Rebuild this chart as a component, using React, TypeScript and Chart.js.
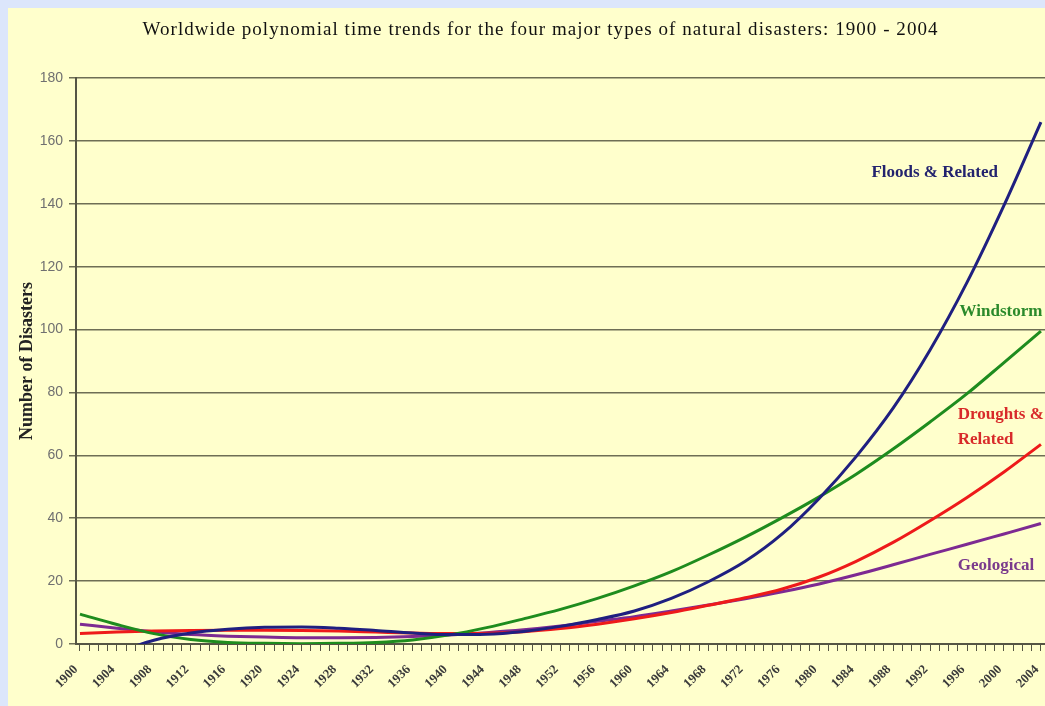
import React, { useEffect, useRef } from 'react';
import { Chart, registerables } from 'chart.js';

Chart.register(...registerables);

const TITLE = 'Worldwide polynomial time trends for the four major types of natural disasters: 1900 - 2004';
const Y_TITLE = 'Number of Disasters';

const YEARS = [1900, 1904, 1908, 1912, 1916, 1920, 1924, 1928, 1932, 1936, 1940, 1944, 1948, 1952, 1956, 1960, 1964, 1968, 1972, 1976, 1980, 1984, 1988, 1992, 1996, 2000, 2004];
const FLOODS = [-7, -2.8, 1.2, 3.5, 4.7, 5.3, 5.4, 5.0, 4.3, 3.5, 3.0, 3.1, 4.0, 5.6, 7.8, 10.5, 14.5, 19.8, 26.3, 35.0, 46.3, 59.6, 75.0, 93.5, 115.0, 139.5, 166.0];
const WINDSTORM = [9.5, 6.2, 3.3, 1.4, 0.5, 0.2, 0.1, 0.2, 0.5, 1.3, 2.9, 5.2, 8.0, 11.0, 14.5, 18.5, 23.0, 28.3, 34.0, 40.2, 46.8, 54.0, 62.0, 70.6, 79.6, 89.5, 99.5];
const DROUGHTS = [3.3, 3.8, 4.1, 4.3, 4.4, 4.4, 4.3, 4.1, 3.8, 3.5, 3.3, 3.4, 3.9, 4.9, 6.3, 8.0, 10.0, 12.3, 14.7, 17.5, 21.3, 26.3, 32.3, 39.2, 46.6, 54.7, 63.5];
const GEOLOGICAL = [6.3, 5.0, 3.9, 3.0, 2.5, 2.2, 2.0, 2.0, 2.1, 2.4, 2.9, 3.6, 4.5, 5.7, 7.2, 8.7, 10.5, 12.4, 14.4, 16.6, 19.1, 22.0, 25.2, 28.5, 31.7, 35.0, 38.3];

const X_LABELS = ['1900', '1904', '1908', '1912', '1916', '1920', '1924', '1928', '1932', '1936', '1940', '1944', '1948', '1952', '1956', '1960', '1964', '1968', '1972', '1976', '1980', '1984', '1988', '1992', '1996', '2000', '2004'];
const Y_TICKS = [0, 20, 40, 60, 80, 100, 120, 140, 160, 180];
const FIRST_YEAR = 1900;
const LAST_YEAR = 2004;

const SERIES_LABELS = [
  { text: 'Floods & Related', x: 1992.5, y: 149.8, color: '#23236e', align: 'center' },
  { text: 'Windstorm', x: 1995.2, y: 105.6, color: '#2b8a2b', align: 'left' },
  { text: 'Droughts &', x: 1995.0, y: 72.8, color: '#d82a2a', align: 'left' },
  { text: 'Related', x: 1995.0, y: 64.9, color: '#d82a2a', align: 'left' },
  { text: 'Geological', x: 1995.0, y: 24.8, color: '#7a3a8c', align: 'left' },
];

const pts = (vals: number[]) => vals.map((v, i) => ({ x: YEARS[i], y: v }));

const bgPlugin = {
  id: 'bgFill',
  beforeDraw(chart: any) {
    const { ctx, width, height } = chart;
    ctx.save();
    ctx.fillStyle = '#FFFFCC';
    ctx.fillRect(0, 0, width, height);
    ctx.restore();
  },
};

const titlePlugin = {
  id: 'spacedTitle',
  afterDraw(chart: any) {
    const { ctx } = chart;
    ctx.save();
    ctx.font = '19px "Liberation Serif", serif';
    ctx.fillStyle = '#111';
    ctx.textBaseline = 'middle';
    ctx.textAlign = 'left';
    (ctx as any).letterSpacing = '0px';
    const w = ctx.measureText(TITLE).width;
    const targetW = 795;
    const ls = Math.max(0, (targetW - w) / (TITLE.length - 1));
    (ctx as any).letterSpacing = ls + 'px';
    ctx.fillText(TITLE, 532 - targetW / 2, 22);
    ctx.restore();
  },
};

const labelPlugin = {
  id: 'seriesLabels',
  afterDatasetsDraw(chart: any) {
    const { ctx, scales } = chart;
    ctx.save();
    ctx.font = 'bold 17px "Liberation Serif", serif';
    ctx.textBaseline = 'middle';
    for (const l of SERIES_LABELS) {
      ctx.fillStyle = l.color;
      ctx.textAlign = l.align as CanvasTextAlign;
      ctx.fillText(l.text, scales.x.getPixelForValue(l.x), scales.y.getPixelForValue(l.y));
    }
    ctx.restore();
  },
};

export default function App() {
  const ref = useRef<HTMLCanvasElement>(null);

  useEffect(() => {
    document.body.style.background = '#dce6fb';
    document.documentElement.style.background = '#dce6fb';
    document.documentElement.style.overflow = 'hidden';
    if (!ref.current) return;

    const allYears: { value: number }[] = [];
    for (let y = FIRST_YEAR; y <= LAST_YEAR; y++) allYears.push({ value: y });

    const mk = (label: string, data: number[], color: string) => ({
      label,
      data: pts(data),
      borderColor: color,
      backgroundColor: color,
      borderWidth: 3,
      pointRadius: 0,
      cubicInterpolationMode: 'monotone' as const,
      fill: false,
      clip: { left: 0, right: 0, top: 4, bottom: 0 },
    });

    const chart = new Chart(ref.current, {
      type: 'line',
      data: {
        datasets: [
          mk('Floods & Related', FLOODS, '#1f1f80'),
          mk('Windstorm', WINDSTORM, '#1e8c1e'),
          mk('Droughts & Related', DROUGHTS, '#ee1a1a'),
          mk('Geological', GEOLOGICAL, '#7d2a92'),
        ],
      },
      options: {
        animation: false,
        responsive: false,
        layout: { padding: { top: 70, left: 0, right: 0, bottom: 0 } },
        plugins: {
          legend: { display: false },
          tooltip: { enabled: false },
          title: { display: false },
        },
        scales: {
          x: {
            type: 'linear',
            min: 1899.57,
            max: 2004.44,
            afterBuildTicks: (s: any) => {
              s.ticks = allYears.map((t) => ({ value: t.value }));
            },
            afterFit: (s: any) => {
              s.height = 62;
              s.paddingLeft = 0;
              s.paddingRight = 0;
            },
            ticks: {
              autoSkip: false,
              minRotation: 45,
              maxRotation: 45,
              padding: 11,
              labelOffset: -4,
              color: '#3a3a3a',
              font: { family: '"Liberation Serif", serif', size: 13, weight: 'bold' },
              callback: (v: any) => (X_LABELS.includes(String(v)) ? String(v) : ''),
            },
            grid: { drawOnChartArea: false, drawTicks: true, tickLength: 7, color: '#555544', lineWidth: 1 },
            border: { display: true, color: '#555544', width: 2 },
          },
          y: {
            min: 0,
            max: 180,
            afterBuildTicks: (s: any) => {
              s.ticks = Y_TICKS.map((v) => ({ value: v }));
            },
            afterFit: (s: any) => {
              s.width = 68;
              s.paddingTop = 0;
              s.paddingBottom = 0;
            },
            ticks: {
              padding: 6,
              color: '#707070',
              font: { family: '"Liberation Sans", sans-serif', size: 14 },
            },
            grid: { color: '#6e6e55', lineWidth: 1.5, tickLength: 7 },
            border: { display: true, color: '#555544', width: 2 },
            title: {
              display: true,
              text: Y_TITLE,
              color: '#222',
              font: { family: '"Liberation Serif", serif', size: 18, weight: 'bold' },
              padding: { top: 9 },
            },
          },
        },
      },
      plugins: [bgPlugin, titlePlugin, labelPlugin],
    } as any);

    return () => chart.destroy();
  }, []);

  return (
    <div style={{ position: 'fixed', left: 8, top: 8, width: 1037, height: 698, overflow: 'visible' }}>
      <canvas ref={ref} width={1037} height={698} style={{ display: 'block', width: 1037, height: 698 }} />
    </div>
  );
}
